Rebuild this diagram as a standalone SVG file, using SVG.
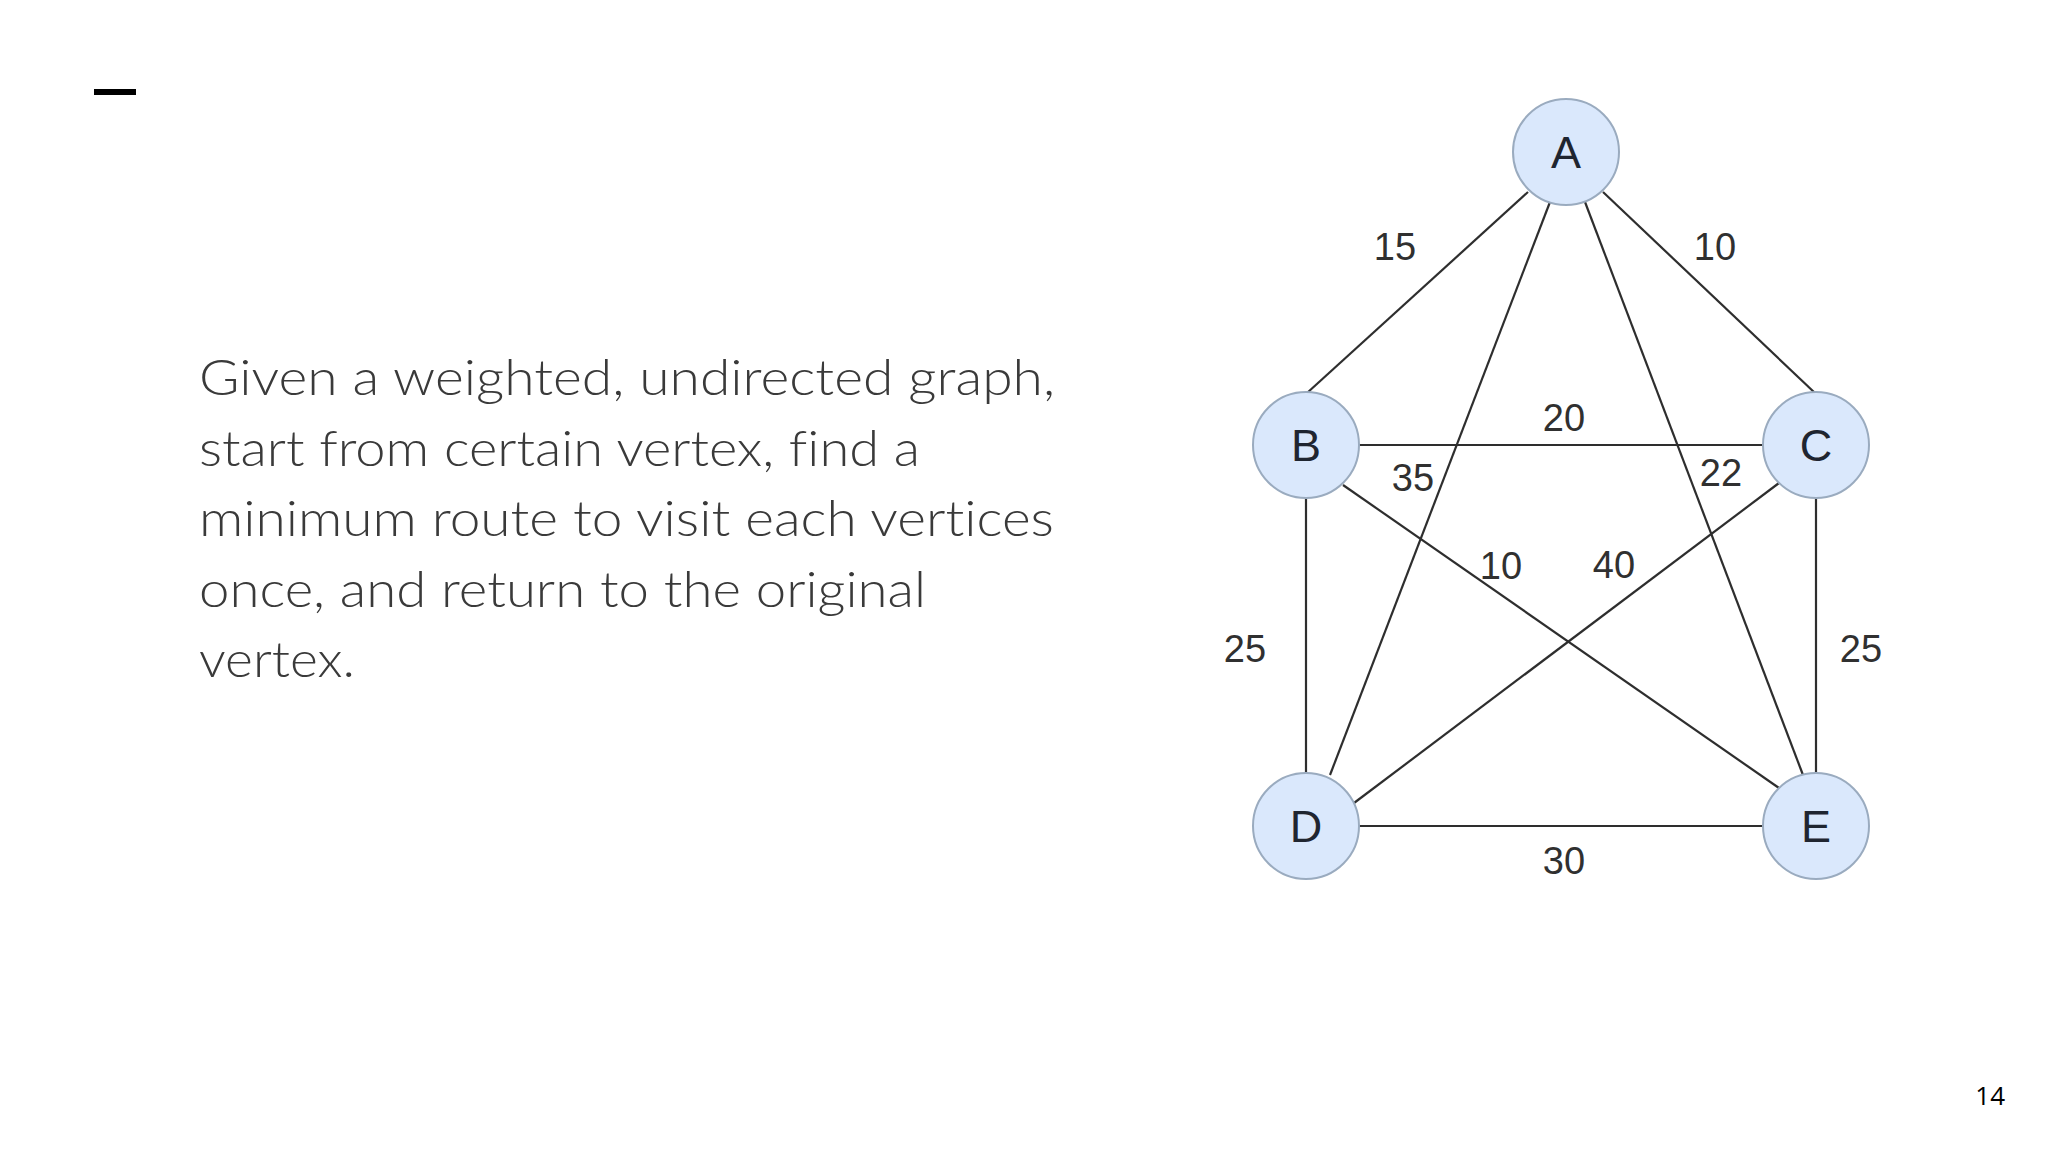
<svg xmlns="http://www.w3.org/2000/svg" width="2048" height="1152" viewBox="0 0 2048 1152">
<style>
.body{font-family:"Lato","Open Sans","Liberation Sans",sans-serif;font-weight:300;font-size:49px;fill:#3a3a3a;font-variant-ligatures:none}
.edge{stroke:#2e2e2e;stroke-width:2.2;fill:none}
.node circle{fill:#dae8fc;stroke:#9aabbf;stroke-width:2}
.node text{font-family:"Liberation Sans",Arial,sans-serif;font-size:45px;fill:#1f2530;text-anchor:middle}
.w{font-family:"Liberation Sans",Arial,sans-serif;font-size:38px;fill:#303030;text-anchor:middle}
.pg{font-family:"Open Sans","Liberation Sans",sans-serif;font-size:26px;fill:#000;text-anchor:end}
</style>
<rect x="0" y="0" width="2048" height="1152" fill="#ffffff"/>
<rect id="dash" x="94" y="89" width="42" height="6" fill="#000"/>
<g id="description">
<text class="body" x="199" y="395" textLength="856" lengthAdjust="spacingAndGlyphs">Given a weighted, undirected graph,</text>
<text class="body" x="199" y="466" textLength="721" lengthAdjust="spacingAndGlyphs">start from certain vertex, find a</text>
<text class="body" x="199" y="536" textLength="855" lengthAdjust="spacingAndGlyphs">minimum route to visit each vertices</text>
<text class="body" x="199" y="607" textLength="727" lengthAdjust="spacingAndGlyphs">once, and return to the original</text>
<text class="body" x="199" y="677" textLength="156" lengthAdjust="spacingAndGlyphs">vertex.</text>
</g>
<g id="connectors">
<line class="edge" x1="1528" y1="192" x2="1307" y2="393"/>
<line class="edge" x1="1603" y1="192" x2="1815" y2="393"/>
<line class="edge" x1="1550" y1="202" x2="1330" y2="775"/>
<line class="edge" x1="1585" y1="202" x2="1803" y2="775"/>
<line class="edge" x1="1359" y1="445" x2="1763" y2="445"/>
<line class="edge" x1="1306" y1="498" x2="1306" y2="773"/>
<line class="edge" x1="1343" y1="485" x2="1779" y2="788"/>
<line class="edge" x1="1779" y1="483" x2="1354" y2="803"/>
<line class="edge" x1="1816" y1="498" x2="1816" y2="773"/>
<line class="edge" x1="1359" y1="826" x2="1763" y2="826"/>
</g>
<g id="weights">
<text class="w" x="1395" y="260">15</text>
<text class="w" x="1715" y="260">10</text>
<text class="w" x="1564" y="431">20</text>
<text class="w" x="1413" y="491">35</text>
<text class="w" x="1721" y="486">22</text>
<text class="w" x="1501" y="579">10</text>
<text class="w" x="1614" y="578">40</text>
<text class="w" x="1245" y="662">25</text>
<text class="w" x="1861" y="662">25</text>
<text class="w" x="1564" y="874">30</text>
</g>
<g id="node-A" class="node"><circle cx="1566" cy="152" r="53"/><text x="1566" y="168">A</text></g>
<g id="node-B" class="node"><circle cx="1306" cy="445" r="53"/><text x="1306" y="461">B</text></g>
<g id="node-C" class="node"><circle cx="1816" cy="445" r="53"/><text x="1816" y="461">C</text></g>
<g id="node-D" class="node"><circle cx="1306" cy="826" r="53"/><text x="1306" y="842">D</text></g>
<g id="node-E" class="node"><circle cx="1816" cy="826" r="53"/><text x="1816" y="842">E</text></g>
<text class="pg" x="2005" y="1105">14</text>
</svg>
